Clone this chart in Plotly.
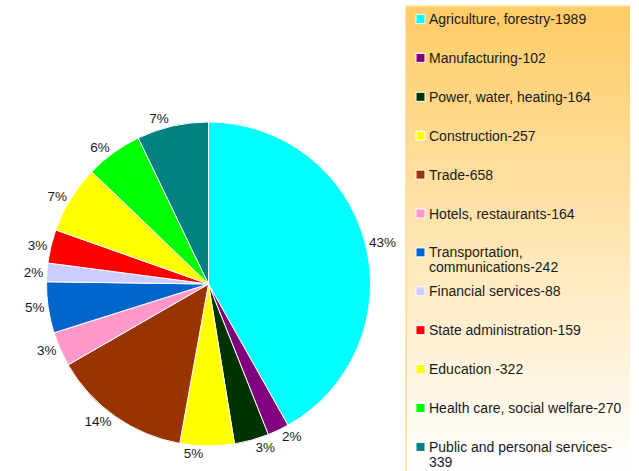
import plotly.graph_objects as go

W, H = 639, 471

# Employment by sector (persons) and the share labels printed beside each slice
sectors = [
    "Agriculture, forestry-1989",
    "Manufacturing-102",
    "Power, water, heating-164",
    "Construction-257",
    "Trade-658",
    "Hotels, restaurants-164",
    "Transportation,<br>communications-242",
    "Financial services-88",
    "State administration-159",
    "Education -322",
    "Health care, social welfare-270",
    "Public and personal services-<br>339",
]
values = [1989, 102, 164, 257, 658, 164, 242, 88, 159, 322, 270, 339]
share_labels = ["43%", "2%", "3%", "5%", "14%", "3%", "5%", "2%", "3%", "7%", "6%", "7%"]
colors = [
    "#00FFFF", "#800080", "#003300", "#FFFF00", "#993300", "#FF99CC",
    "#0066CC", "#CCCCFF", "#FF0000", "#FFFF00", "#00FF00", "#008080",
]

FONT = "Liberation Sans, Arial, sans-serif"


def px_x(x):
    return x / W


def px_y(y):
    return 1 - y / H


fig = go.Figure()

# pie centred at (208, 284) px with a radius of about 162 px
cx, cy, rad = 208.5, 284, 162
pie_domain = dict(x=[px_x(cx - rad), px_x(cx + rad)], y=[px_y(cy + rad), px_y(cy - rad)])

# Two identical pies stacked: each carries every other share label, so
# neighbouring small-slice labels are not pushed apart with leader lines.
for parity in (0, 1):
    texts = [t if i % 2 == parity else "" for i, t in enumerate(share_labels)]
    fig.add_trace(go.Pie(
        labels=sectors,
        values=values,
        text=texts,
        textinfo="text",
        textposition="outside",
        sort=False,
        direction="clockwise",
        rotation=0,
        automargin=False,
        marker=dict(colors=colors, line=dict(color="white", width=1)),
        outsidetextfont=dict(family=FONT, size=13.5, color="#1a1a1a"),
        showlegend=False,
        hoverinfo="label+value" if parity == 0 else "skip",
        domain=pie_domain,
    ))

shapes = []
annotations = []

# Legend panel: vertical orange-to-white gradient built from thin strips
box_l, box_r, box_t, box_b = 406, 630, 6, 471
top_rgb = (255, 204, 102)
bot_rgb = (255, 255, 255)
n_strips = 90
for i in range(n_strips):
    t = i / (n_strips - 1)
    r = round(top_rgb[0] + (bot_rgb[0] - top_rgb[0]) * t)
    g = round(top_rgb[1] + (bot_rgb[1] - top_rgb[1]) * t)
    b = round(top_rgb[2] + (bot_rgb[2] - top_rgb[2]) * t)
    y0 = box_t + (box_b - box_t) * i / n_strips
    y1 = box_t + (box_b - box_t) * (i + 1) / n_strips + 0.6
    shapes.append(dict(
        type="rect", xref="paper", yref="paper",
        x0=px_x(box_l), x1=px_x(box_r), y0=px_y(y1), y1=px_y(y0),
        fillcolor=f"rgb({r},{g},{b})", line=dict(width=0), layer="below",
    ))
# thin lighter edges of the panel
shapes.append(dict(
    type="line", xref="paper", yref="paper",
    x0=px_x(box_l), x1=px_x(box_l), y0=px_y(box_b), y1=px_y(box_t),
    line=dict(color="rgba(255,215,140,0.9)", width=1.5), layer="below",
))
shapes.append(dict(
    type="line", xref="paper", yref="paper",
    x0=px_x(box_l), x1=px_x(box_r), y0=px_y(box_t), y1=px_y(box_t),
    line=dict(color="rgba(255,225,160,0.9)", width=1.5), layer="below",
))

# Legend entries: swatch + label (wrapped lines drawn 15 px apart)
first_y, step, line_gap = 19, 38.9, 15
for i, (lab, col) in enumerate(zip(sectors, colors)):
    ly = first_y + i * step
    shapes.append(dict(
        type="rect", xref="paper", yref="paper",
        x0=px_x(416), x1=px_x(425), y0=px_y(ly + 4.5), y1=px_y(ly - 4.5),
        fillcolor=col, line=dict(color="white", width=1),
    ))
    for k, part in enumerate(lab.split("<br>")):
        annotations.append(dict(
            x=px_x(427), y=px_y(ly + k * line_gap), xref="paper", yref="paper",
            xanchor="left", yanchor="middle", align="left",
            text=part, showarrow=False,
            font=dict(family=FONT, size=14, color="#1a1a1a"),
        ))

fig.update_layout(
    width=W, height=H,
    margin=dict(l=0, r=0, t=0, b=0, autoexpand=False),
    paper_bgcolor="white",
    plot_bgcolor="white",
    shapes=shapes,
    annotations=annotations,
)

fig.write_html("out.html")
